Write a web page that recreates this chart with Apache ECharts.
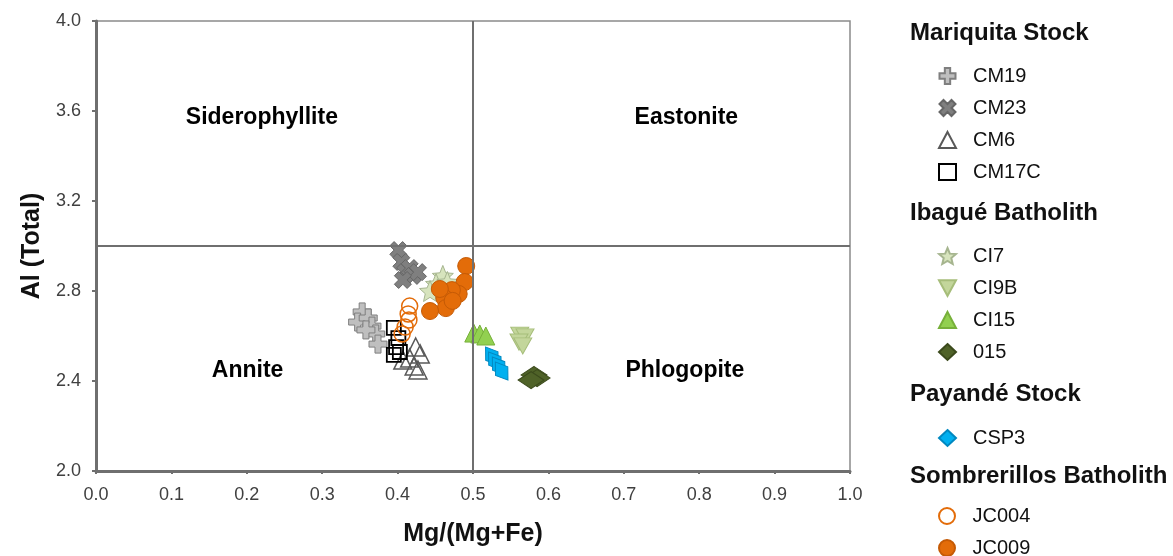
<!DOCTYPE html>
<html>
<head>
<meta charset="utf-8">
<script src="https://cdn.jsdelivr.net/npm/echarts@6/dist/echarts.min.js"></script>
<style>
  html, body { margin: 0; padding: 0; background: #fff; }
  #chart { width: 1173px; height: 556px; }
</style>
</head>
<body>
<div id="chart"></div>
<script>
// Biotite classification: Al (total) vs Mg/(Mg+Fe)
const xTicks = [0.0, 0.1, 0.2, 0.3, 0.4, 0.5, 0.6, 0.7, 0.8, 0.9, 1.0];
const yTicks = [2.0, 2.4, 2.8, 3.2, 3.6, 4.0];

// Field boundaries
const boundaryX = 0.5;
const boundaryY = 3.0;

// Field names [x, y, name]
const regionLabels = [
  [0.220, 3.57, 'Siderophyllite'],
  [0.783, 3.57, 'Eastonite'],
  [0.201, 2.445, 'Annite'],
  [0.781, 2.445, 'Phlogopite']
];

// Mariquita Stock
const CM19 = [[0.353, 2.707], [0.347, 2.662], [0.361, 2.680], [0.366, 2.644], [0.371, 2.609], [0.374, 2.564], [0.358, 2.627]];
const CM23 = [[0.401, 2.982], [0.405, 2.929], [0.410, 2.884], [0.416, 2.902], [0.420, 2.867], [0.427, 2.884], [0.407, 2.849]];
const CM6 = [[0.424, 2.551], [0.430, 2.520], [0.416, 2.502], [0.422, 2.467], [0.407, 2.493], [0.427, 2.449]];
const CM17C = [[0.395, 2.636], [0.401, 2.591], [0.398, 2.551], [0.395, 2.516], [0.403, 2.529]];
// Ibagué Batholith
const CI7 = [[0.460, 2.867], [0.451, 2.831], [0.443, 2.800], [0.466, 2.840]];
const CI9B = [[0.562, 2.604], [0.569, 2.596], [0.561, 2.573], [0.566, 2.556]];
const CI15 = [[0.501, 2.613], [0.509, 2.609], [0.517, 2.600]];
const S015 = [[0.581, 2.427], [0.585, 2.413], [0.577, 2.404]];
// Payandé Stock
const CSP3 = [[0.525, 2.511], [0.529, 2.489], [0.534, 2.467], [0.538, 2.444]];
// Sombrerillos Batholith
const JC004 = [[0.416, 2.733], [0.414, 2.698], [0.415, 2.671], [0.410, 2.640], [0.406, 2.609]];
const JC009 = [[0.491, 2.911], [0.489, 2.840], [0.481, 2.787], [0.472, 2.804], [0.462, 2.769], [0.464, 2.724], [0.443, 2.711], [0.473, 2.756], [0.456, 2.809]];

const FONT = '"Liberation Sans", Arial, Helvetica, sans-serif';
const PLUS = 'path://M4,0 H8 V4 H12 V8 H8 V12 H4 V8 H0 V4 H4 Z';
const CROSS = 'path://M0,3 L3,0 L6,3 L9,0 L12,3 L9,6 L12,9 L9,12 L6,9 L3,12 L0,9 L3,6 Z';
const DOWN = 'path://M0,0 L12,0 L6,11 Z';
const STAR = 'path://M10,0 L12.65,6.36 L19.51,6.91 L14.28,11.39 L15.88,18.09 L10,14.5 L4.12,18.09 L5.72,11.39 L0.49,6.91 L7.35,6.36 Z';

function pts(name, data, symbol, size, style, extra) {
  return Object.assign({
    name: name,
    type: 'scatter',
    data: data,
    symbol: symbol,
    symbolSize: size,
    itemStyle: Object.assign({ opacity: 1 }, style),
    emphasis: { disabled: true },
    z: 3
  }, extra || {});
}

const series = [
  pts('CM19', CM19, PLUS, 18, { color: '#bfbfbf', borderColor: '#7f7f7f', borderWidth: 1 }),
  pts('CM23', CM23, CROSS, 17, { color: '#7f7f7f', borderColor: '#666666', borderWidth: 1 }),
  pts('CM6', CM6, 'triangle', 18, { color: 'rgba(255,255,255,0)', borderColor: '#595959', borderWidth: 1.5 }),
  pts('CM17C', CM17C, 'rect', 14, { color: 'rgba(255,255,255,0)', borderColor: '#000000', borderWidth: 1.8 }),
  pts('CI7', CI7, STAR, 21, { color: '#d7e4bd', borderColor: '#a6b58f', borderWidth: 1 }),
  pts('CI9B', CI9B, DOWN, [18, 16], { color: '#c3d69b', borderColor: '#a6bd7a', borderWidth: 1 }),
  pts('CI15', CI15, 'triangle', 18, { color: '#92d050', borderColor: '#77b03a', borderWidth: 1 }),
  pts('015', S015, 'diamond', [26, 17], { color: '#4f6228', borderColor: '#3b4a1c', borderWidth: 1 }),
  pts('CSP3', CSP3, 'diamond', [15, 22], { color: '#00b0f0', borderColor: '#0088c0', borderWidth: 1 }, { symbolRotate: 35 }),
  pts('JC004', JC004, 'circle', 16, { color: 'rgba(255,255,255,0)', borderColor: '#e36c09', borderWidth: 1.5 }),
  pts('JC009', JC009, 'circle', 17, { color: '#e36c09', borderColor: '#c55a05', borderWidth: 1 }),
  {
    name: 'fields',
    type: 'scatter',
    data: regionLabels.map(r => ({ value: [r[0], r[1]], name: r[2] })),
    symbolSize: 0,
    silent: true,
    itemStyle: { opacity: 1 },
    label: {
      show: true,
      position: 'inside',
      formatter: p => p.name,
      fontFamily: FONT,
      fontSize: 23,
      fontWeight: 'bold',
      color: '#000000'
    },
    markLine: {
      silent: true,
      symbol: 'none',
      label: { show: false },
      lineStyle: { color: '#6f6f6f', width: 2, type: 'solid' },
      data: [{ xAxis: boundaryX }, { yAxis: boundaryY }]
    },
    z: 2
  }
];

function legendGroup(names, top) {
  return {
    orient: 'vertical',
    left: 938,
    top: top,
    padding: 0,
    itemGap: 12,
    itemWidth: 17,
    itemHeight: 16,
    height: 200,
    data: names,
    textStyle: { fontFamily: FONT, fontSize: 20, lineHeight: 20, color: '#111111', padding: [0, 0, 0, 12] }
  };
}

function header(text, top) {
  return {
    text: text,
    left: 910,
    top: top,
    padding: 0,
    textStyle: { fontFamily: FONT, fontSize: 24, fontWeight: 'bold', color: '#111111' }
  };
}

const option = {
  backgroundColor: '#ffffff',
  animation: false,
  title: [
    header('Mariquita Stock', 21),
    header('Ibagué Batholith', 201),
    header('Payandé Stock', 382),
    header('Sombrerillos Batholith', 464)
  ],
  legend: [
    legendGroup(['CM19', 'CM23', 'CM6', 'CM17C'], 66),
    legendGroup(['CI7', 'CI9B', 'CI15', '015'], 246),
    legendGroup(['CSP3'], 428),
    legendGroup(['JC004'], 506),
    legendGroup(['JC009'], 538)
  ],
  grid: {
    left: 96, right: 323, top: 21, bottom: 85,
    show: true,
    borderColor: '#8a8a8a',
    borderWidth: 1.5,
    backgroundColor: 'transparent'
  },
  xAxis: {
    type: 'value',
    min: xTicks[0], max: xTicks[xTicks.length - 1], interval: 0.1,
    name: 'Mg/(Mg+Fe)',
    nameLocation: 'middle',
    nameGap: 51,
    nameTextStyle: { fontFamily: FONT, fontSize: 25, fontWeight: 'bold', color: '#111111' },
    axisLine: { show: true, lineStyle: { color: '#6f6f6f', width: 3 } },
    axisTick: { show: true, length: 3, lineStyle: { color: '#6f6f6f', width: 2 } },
    axisLabel: { fontFamily: FONT, fontSize: 18, color: '#404040', margin: 15, formatter: v => v.toFixed(1) },
    splitLine: { show: false }
  },
  yAxis: {
    type: 'value',
    min: yTicks[0], max: yTicks[yTicks.length - 1], interval: 0.4,
    name: 'Al (Total)',
    nameLocation: 'middle',
    nameGap: 50,
    nameTextStyle: { fontFamily: FONT, fontSize: 25, fontWeight: 'bold', color: '#111111' },
    axisLine: { show: true, lineStyle: { color: '#6f6f6f', width: 3 } },
    axisTick: { show: true, length: 4, lineStyle: { color: '#6f6f6f', width: 2 } },
    axisLabel: { fontFamily: FONT, fontSize: 18, color: '#404040', margin: 15, formatter: v => v.toFixed(1) },
    splitLine: { show: false }
  },
  series: series
};

const chart = echarts.init(document.getElementById('chart'), null, { renderer: 'canvas' });
chart.setOption(option);
</script>
</body>
</html>
